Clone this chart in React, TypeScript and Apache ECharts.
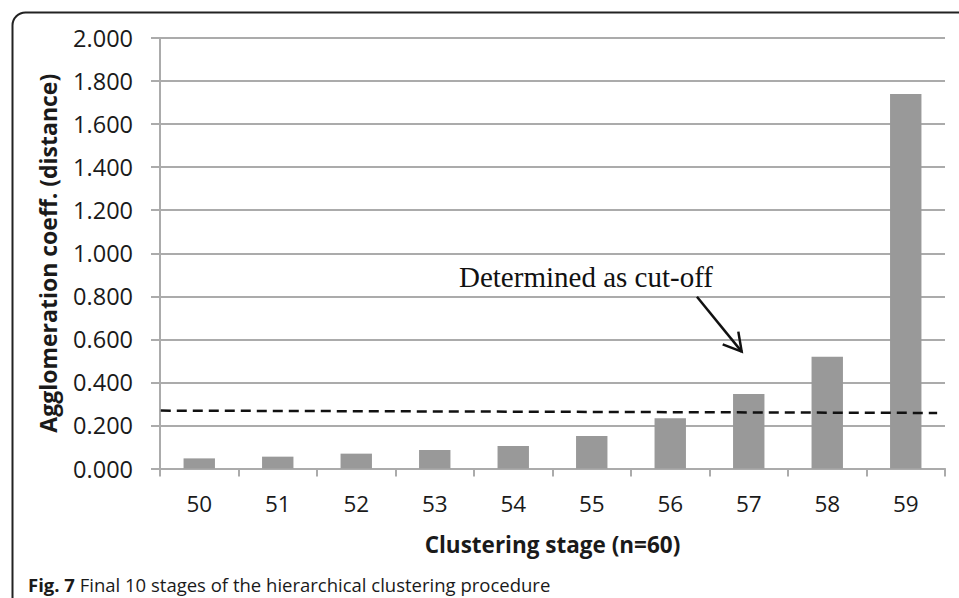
import React, { useEffect, useRef } from "react";
import * as echarts from "echarts";

const stages = ["50", "51", "52", "53", "54", "55", "56", "57", "58", "59"];
const coefficients = [0.047, 0.055, 0.069, 0.086, 0.104, 0.151, 0.233, 0.346, 0.519, 1.74];
// cut-off dashed line, in [category position, value]
const cutoffLine = [
  [0.01, 0.269],
  [9.9, 0.258],
];
// annotation arrow shaft and head, in [category position, value]
const arrowShaft = [
  [6.84, 0.798],
  [7.41, 0.543],
];
const arrowHead = [
  [7.168, 0.577],
  [7.41, 0.543],
  [7.367, 0.636],
];
const yTicks = { min: 0, max: 2, interval: 0.2 };
const yTitle = "Agglomeration coeff. (distance)";
const xTitle = "Clustering stage (n=60)";
const annotation = "Determined as cut-off";
const captionBold = "Fig. 7";
const captionText = " Final 10 stages of the hierarchical clustering procedure";

const SANS = "'Open Sans', sans-serif";
const GRID_COLOR = "#ababab";

export default function App() {
  const ref = useRef<HTMLDivElement>(null);
  useEffect(() => {
    if (!ref.current) return;
    const chart = echarts.init(ref.current, null, { renderer: "svg" });
    chart.setOption({
      animation: false,
      backgroundColor: "#ffffff",
      grid: { left: 160, right: 14, top: 38, bottom: 129.5, containLabel: false },
      xAxis: [
        {
          type: "category",
          data: stages,
          boundaryGap: true,
          axisLine: { show: true, lineStyle: { color: GRID_COLOR, width: 2 } },
          axisTick: { show: true, length: 8, lineStyle: { color: GRID_COLOR, width: 2 } },
          axisLabel: { color: "#1a1a1a", fontFamily: SANS, fontSize: 22.5, margin: 23 },
          name: xTitle,
          nameLocation: "middle",
          nameGap: 64,
          nameTextStyle: { color: "#1a1a1a", fontFamily: SANS, fontSize: 22.5, fontWeight: "bold" },
        },
        {
          type: "value",
          min: 0,
          max: 10,
          show: false,
        },
      ],
      yAxis: {
        type: "value",
        min: yTicks.min,
        max: yTicks.max,
        interval: yTicks.interval,
        axisLine: { show: true, lineStyle: { color: GRID_COLOR, width: 2 } },
        axisTick: { show: true, length: 9, lineStyle: { color: GRID_COLOR, width: 2 } },
        splitLine: { show: true, lineStyle: { color: GRID_COLOR, width: 2 } },
        axisLabel: {
          color: "#1a1a1a",
          fontFamily: SANS,
          fontSize: 23.5,
          margin: 27,
          formatter: (v: number) => v.toFixed(3),
        },
        name: yTitle,
        nameLocation: "middle",
        nameGap: 101,
        nameTextStyle: { color: "#1a1a1a", fontFamily: SANS, fontSize: 23, fontWeight: "bold" },
      },
      series: [
        {
          type: "bar",
          data: coefficients,
          barWidth: "40%",
          itemStyle: { color: "#999999" },
          xAxisIndex: 0,
        },
        {
          type: "line",
          xAxisIndex: 1,
          data: cutoffLine,
          symbol: "none",
          lineStyle: { color: "#111111", width: 2.5, type: [10, 6] },
          z: 5,
        },
        {
          type: "line",
          xAxisIndex: 1,
          data: arrowShaft,
          symbol: "none",
          lineStyle: { color: "#111111", width: 2.5 },
          z: 5,
        },
        {
          type: "line",
          xAxisIndex: 1,
          data: arrowHead,
          symbol: "none",
          lineStyle: { color: "#111111", width: 2.5, join: "miter" },
          z: 5,
        },
      ],
      graphic: [
        {
          type: "rect",
          shape: { x: 12.5, y: 12.5, width: 1000, height: 700, r: 13 },
          style: { fill: "none", stroke: "#222222", lineWidth: 2 },
          silent: true,
        },
        {
          type: "text",
          x: 459,
          y: 277,
          style: {
            text: annotation,
            fontFamily: "'Liberation Serif', serif",
            fontSize: 29,
            fill: "#111111",
            verticalAlign: "middle",
          },
        },
        {
          type: "text",
          x: 28,
          y: 584,
          style: {
            text: "{b|" + captionBold + "}{r|" + captionText + "}",
            verticalAlign: "middle",
            rich: {
              b: { fontFamily: SANS, fontSize: 18.5, fontWeight: "bold", fill: "#1a1a1a" },
              r: { fontFamily: SANS, fontSize: 18.5, fill: "#1a1a1a" },
            },
          },
        },
      ],
    });
    return () => chart.dispose();
  }, []);
  return (
    <div
      ref={ref}
      style={{ position: "fixed", left: 0, top: 0, width: 959, height: 598, background: "#fff" }}
    />
  );
}
